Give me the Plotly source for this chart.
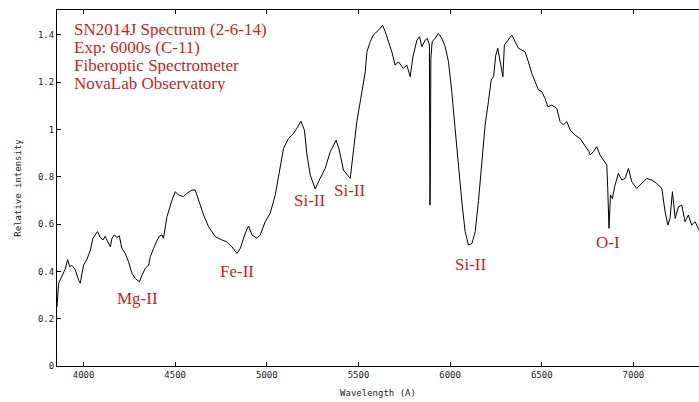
import plotly.graph_objects as go

# Wavelength (Angstrom) and relative intensity
wavelength = [3855, 3864, 3882, 3900, 3913, 3924, 3937, 3955, 3973, 3982, 3991, 4000,
              4018, 4037, 4051, 4064, 4076, 4091, 4106, 4118, 4131, 4146, 4155, 4167,
              4182, 4195, 4209, 4227, 4245, 4264, 4282, 4305, 4319, 4337, 4355, 4364,
              4382, 4397, 4415, 4428, 4436, 4455, 4482, 4500, 4518, 4545, 4564, 4591,
              4609, 4627, 4655, 4682, 4718, 4755, 4782, 4809, 4837, 4855, 4882, 4900,
              4919, 4946, 4964, 4991, 5018, 5046, 5073, 5091, 5118, 5145, 5164, 5186,
              5205, 5219, 5237, 5264, 5286, 5318, 5346, 5378, 5395, 5418, 5455, 5473,
              5491, 5519, 5537, 5546, 5564, 5582, 5591, 5618, 5631, 5646, 5664, 5682,
              5700, 5718, 5745, 5764, 5782, 5797, 5819, 5833, 5846, 5864, 5876, 5887,
              5890, 5892, 5895, 5902, 5918, 5936, 5955, 5973, 5991, 6009, 6027, 6045,
              6064, 6082, 6100, 6119, 6137, 6155, 6173, 6191, 6209, 6224, 6237, 6249,
              6260, 6269, 6278, 6288, 6296, 6318, 6337, 6355, 6373, 6391, 6409, 6427,
              6446, 6464, 6482, 6500, 6518, 6533, 6555, 6582, 6600, 6618, 6637, 6655,
              6682, 6709, 6736, 6758, 6764, 6782, 6800, 6818, 6836, 6855, 6860, 6867,
              6875, 6885, 6900, 6918, 6937, 6955, 6973, 6991, 7018, 7046, 7073, 7100,
              7127, 7155, 7173, 7188, 7200, 7213, 7228, 7246, 7264, 7282, 7300, 7318,
              7337, 7358]
intensity = [0.25, 0.35, 0.38, 0.41, 0.45, 0.42, 0.425, 0.406, 0.363, 0.35, 0.39, 0.427,
             0.45, 0.49, 0.54, 0.555, 0.568, 0.544, 0.533, 0.548, 0.525, 0.504, 0.54, 0.554,
             0.544, 0.55, 0.498, 0.476, 0.441, 0.392, 0.37, 0.356, 0.385, 0.413, 0.427, 0.462,
             0.497, 0.525, 0.55, 0.554, 0.54, 0.631, 0.70, 0.737, 0.723, 0.716, 0.73, 0.744,
             0.744, 0.70, 0.638, 0.589, 0.547, 0.533, 0.525, 0.504, 0.476, 0.497, 0.561, 0.592,
             0.554, 0.54, 0.554, 0.61, 0.645, 0.723, 0.835, 0.92, 0.962, 0.983, 1.005, 1.035,
             0.997, 0.892, 0.807, 0.748, 0.786, 0.835, 0.906, 0.955, 0.913, 0.828, 0.793, 0.92,
             1.033, 1.16, 1.244, 1.328, 1.371, 1.401, 1.406, 1.427, 1.441, 1.413, 1.371, 1.328,
             1.272, 1.286, 1.258, 1.272, 1.223, 1.307, 1.378, 1.392, 1.35, 1.378, 1.385, 1.357,
             0.68, 0.80, 1.30, 1.371, 1.385, 1.406, 1.385, 1.35, 1.286, 1.16, 1.005, 0.85,
             0.694, 0.568, 0.511, 0.518, 0.568, 0.70, 0.878, 1.019, 1.117, 1.209, 1.223, 1.314,
             1.343, 1.30, 1.265, 1.223, 1.357, 1.378, 1.399, 1.371, 1.343, 1.336, 1.328, 1.286,
             1.237, 1.202, 1.167, 1.16, 1.131, 1.096, 1.103, 1.089, 1.033, 1.019, 1.033, 0.997,
             0.976, 0.962, 0.934, 0.906, 0.892, 0.906, 0.927, 0.892, 0.871, 0.85, 0.751, 0.582,
             0.723, 0.708, 0.765, 0.814, 0.786, 0.793, 0.835, 0.779, 0.751, 0.772, 0.793, 0.786,
             0.772, 0.751, 0.652, 0.596, 0.624, 0.737, 0.624, 0.673, 0.68, 0.61, 0.638, 0.596,
             0.61, 0.575]

x_ticks = [4000, 4500, 5000, 5500, 6000, 6500, 7000]
y_ticks = [0, 0.2, 0.4, 0.6, 0.8, 1, 1.2, 1.4]
y_tick_labels = ["0", "0.2", "0.4", "0.6", "0.8", "1", "1.2", "1.4"]

header_lines = ["SN2014J Spectrum (2-6-14)", "Exp: 6000s (C-11)",
                "Fiberoptic Spectrometer", "NovaLab Observatory"]
line_labels = ["Mg-II", "Fe-II", "Si-II", "Si-II", "Si-II", "O-I"]
line_label_x = [4293, 4836, 5234, 5455, 6115, 6859]
line_label_y = [0.287, 0.40, 0.70, 0.744, 0.431, 0.524]

RED = "#c81e1e"
SERIF = "Liberation Serif, Times New Roman, serif"
MONO = "DejaVu Sans Mono, monospace"

fig = go.Figure()
fig.add_trace(go.Scatter(x=wavelength, y=intensity, mode="lines",
                         line=dict(color="black", width=1), hoverinfo="skip",
                         showlegend=False))

annotations = []
header_y = [1.424, 1.348, 1.272, 1.196]
for txt, yy in zip(header_lines, header_y):
    annotations.append(dict(x=3936, y=yy, xref="x", yref="y", text=txt,
                            showarrow=False, xanchor="left", yanchor="middle",
                            height=18, valign="middle",
                            font=dict(family=SERIF, size=17, color=RED)))
for txt, xx, yy in zip(line_labels, line_label_x, line_label_y):
    annotations.append(dict(x=xx, y=yy, xref="x", yref="y", text=txt,
                            showarrow=False, xanchor="center", yanchor="middle",
                            font=dict(family=SERIF, size=17, color=RED)))

fig.update_layout(
    width=699, height=402,
    margin=dict(l=57, r=0, t=10, b=36),
    paper_bgcolor="white", plot_bgcolor="white",
    annotations=annotations,
    xaxis=dict(range=[3855, 7358], tickvals=x_ticks, ticks="inside", ticklen=4,
               tickcolor="black", showline=True, linecolor="black", linewidth=1,
               mirror="ticks", showgrid=False, zeroline=False,
               tickfont=dict(family=MONO, size=9, color="#222"),
               title=dict(text="Wavelength (A)", standoff=10,
                          font=dict(family=MONO, size=9, color="#222"))),
    yaxis=dict(range=[0, 1.505], tickvals=y_ticks, ticktext=y_tick_labels,
               ticks="inside", ticklen=4, tickcolor="black", showline=True,
               linecolor="black", linewidth=1, showgrid=False, zeroline=False,
               tickfont=dict(family=MONO, size=9, color="#222"),
               title=dict(text="Relative intensity", standoff=14,
                          font=dict(family=MONO, size=9, color="#222"))),
)

fig.write_html("out.html")
